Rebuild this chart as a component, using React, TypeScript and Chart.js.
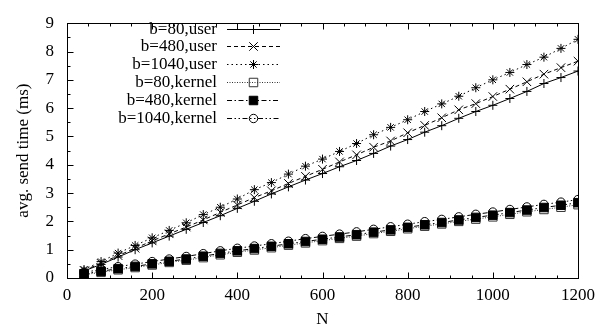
import React, { useEffect, useRef } from 'react';
import { Chart, registerables } from 'chart.js';
import { drawPoint } from 'chart.js/helpers';

Chart.register(...registerables);

const N = [40, 80, 120, 160, 200, 240, 280, 320, 360, 400, 440, 480, 520, 560, 600, 640, 680, 720, 760, 800, 840, 880, 920, 960, 1000, 1040, 1080, 1120, 1160, 1200];

const userB80 = [0.25, 0.48, 0.74, 1.0, 1.24, 1.48, 1.72, 1.96, 2.2, 2.46, 2.71, 2.97, 3.22, 3.46, 3.69, 3.93, 4.15, 4.4, 4.66, 4.89, 5.15, 5.38, 5.64, 5.88, 6.1, 6.34, 6.59, 6.87, 7.08, 7.31];
const userB480 = [0.27, 0.52, 0.79, 1.05, 1.31, 1.56, 1.8, 2.05, 2.32, 2.58, 2.84, 3.08, 3.34, 3.59, 3.84, 4.1, 4.35, 4.62, 4.84, 5.13, 5.39, 5.66, 5.94, 6.16, 6.41, 6.67, 6.93, 7.2, 7.43, 7.66];
const userB1040 = [0.3, 0.58, 0.88, 1.15, 1.42, 1.68, 1.95, 2.24, 2.5, 2.79, 3.12, 3.37, 3.67, 3.95, 4.2, 4.47, 4.75, 5.06, 5.32, 5.59, 5.88, 6.15, 6.42, 6.72, 7.0, 7.26, 7.54, 7.8, 8.11, 8.43];
const kernelB80 = [0.12, 0.2, 0.29, 0.37, 0.46, 0.55, 0.63, 0.72, 0.82, 0.91, 0.99, 1.07, 1.16, 1.24, 1.32, 1.4, 1.48, 1.57, 1.65, 1.74, 1.83, 1.91, 2.0, 2.08, 2.16, 2.25, 2.34, 2.42, 2.5, 2.59];
const kernelB480 = [0.15, 0.24, 0.33, 0.41, 0.5, 0.59, 0.67, 0.77, 0.87, 0.96, 1.04, 1.12, 1.21, 1.29, 1.37, 1.45, 1.53, 1.62, 1.7, 1.79, 1.88, 1.96, 2.05, 2.14, 2.22, 2.31, 2.4, 2.49, 2.57, 2.66];
const kernelB1040 = [0.2, 0.3, 0.4, 0.49, 0.58, 0.67, 0.76, 0.86, 0.96, 1.05, 1.13, 1.21, 1.3, 1.39, 1.47, 1.55, 1.63, 1.72, 1.81, 1.9, 1.99, 2.07, 2.16, 2.25, 2.33, 2.42, 2.51, 2.6, 2.68, 2.77];

const seriesLabels = ['b=80,user', 'b=480,user', 'b=1040,user', 'b=80,kernel', 'b=480,kernel', 'b=1040,kernel'];
const seriesValues = [userB80, userB480, userB1040, kernelB80, kernelB480, kernelB1040];

const X_MIN = 0;
const X_MAX = 1200;
const X_MAJOR = 200;
const X_MINOR = 50;
const Y_MIN = 0;
const Y_MAX = 9;
const Y_MAJOR = 1;
const Y_MINOR = 0.5;
const X_TITLE = 'N';
const Y_TITLE = 'avg. send time (ms)';

const FONT = '"Liberation Serif", "Times New Roman", serif';
const FONT_SIZE = 17;

type Style = {
  dash: number[];
  pointStyle: any;
  radius: number;
  fill: string;
  color: string;
};

const styles: Style[] = [
  { dash: [], pointStyle: 'cross', radius: 4.5, fill: 'transparent', color: '#000' },
  { dash: [4, 3], pointStyle: 'crossRot', radius: 6, fill: 'transparent', color: '#000' },
  { dash: [1.5, 3], pointStyle: 'star', radius: 4.5, fill: 'transparent', color: '#000' },
  { dash: [1, 1.5], pointStyle: 'rect', radius: 6, fill: 'transparent', color: '#333' },
  { dash: [5, 2.5, 1.5, 2.5], pointStyle: 'rect', radius: 6, fill: '#000', color: '#000' },
  { dash: [5, 2.5, 1.5, 2.5, 1.5, 2.5], pointStyle: 'circle', radius: 4.2, fill: 'transparent', color: '#000' },
];

const framePlugin = {
  id: 'gnuFrame',
  beforeDatasetsDraw(chart: any) {
    const { ctx, chartArea: a, scales } = chart;
    const xs = scales.x;
    const ys = scales.y;
    const L = Math.round(a.left) + 0.5;
    const R = Math.round(a.right) + 0.5;
    const T = Math.round(a.top) + 0.5;
    const B = Math.round(a.bottom) + 0.5;
    ctx.save();
    ctx.strokeStyle = '#000';
    ctx.lineWidth = 1;
    ctx.beginPath();
    for (let v = X_MIN; v <= X_MAX + 1e-9; v += X_MINOR) {
      const px = Math.round(xs.getPixelForValue(v)) + 0.5;
      const len = Math.abs(v % X_MAJOR) < 1e-9 ? 6 : 3;
      ctx.moveTo(px, B);
      ctx.lineTo(px, B - len);
      ctx.moveTo(px, T);
      ctx.lineTo(px, T + len);
    }
    for (let v = Y_MIN; v <= Y_MAX + 1e-9; v += Y_MINOR) {
      const py = Math.round(ys.getPixelForValue(v)) + 0.5;
      const len = Math.abs(v % Y_MAJOR) < 1e-9 ? 6 : 3;
      ctx.moveTo(L, py);
      ctx.lineTo(L + len, py);
    }
    ctx.stroke();
    ctx.strokeRect(L, T, R - L, B - T);
    ctx.restore();
  },
  afterDatasetsDraw(chart: any) {
    const { ctx } = chart;
    const textRight = 217;
    const lineStart = 227;
    const lineEnd = 280;
    const markX = 253.5;
    const top = 28.5;
    const step = 17.8;
    ctx.save();
    ctx.font = `${FONT_SIZE}px ${FONT}`;
    ctx.fillStyle = '#000';
    ctx.textAlign = 'right';
    ctx.textBaseline = 'middle';
    seriesLabels.forEach((lab, i) => {
      const y = Math.round(top + step * i) + 0.5;
      const st = styles[i];
      ctx.fillStyle = '#000';
      ctx.fillText(lab, textRight, y);
      ctx.beginPath();
      ctx.setLineDash(st.dash);
      ctx.strokeStyle = st.color;
      ctx.lineWidth = 1;
      ctx.moveTo(lineStart, y);
      ctx.lineTo(lineEnd, y);
      ctx.stroke();
      ctx.setLineDash([]);
      ctx.strokeStyle = st.color;
      ctx.fillStyle = st.fill;
      drawPoint(ctx, { pointStyle: st.pointStyle, radius: st.radius, borderWidth: 1, rotation: 0 } as any, markX, y);
    });
    ctx.restore();
  },
};

export default function App() {
  const ref = useRef<HTMLCanvasElement | null>(null);
  useEffect(() => {
    if (!ref.current) return;
    const datasets = seriesLabels.map((label, i) => ({
      label,
      data: N.map((n, j) => ({ x: n, y: seriesValues[i][j] })),
      borderColor: styles[i].color,
      borderWidth: 1,
      borderDash: styles[i].dash,
      pointStyle: styles[i].pointStyle,
      pointRadius: styles[i].radius,
      pointBorderColor: styles[i].color,
      pointBackgroundColor: styles[i].fill,
      pointBorderWidth: 1,
      fill: false,
      tension: 0,
      order: 5 - i,
    }));
    const chart = new Chart(ref.current, {
      type: 'line',
      data: { datasets },
      options: {
        animation: false,
        responsive: false,
        maintainAspectRatio: false,
        layout: { padding: { left: 0, right: 20, top: 13, bottom: 0 } },
        plugins: { legend: { display: false }, tooltip: { enabled: false } },
        scales: {
          x: {
            type: 'linear',
            min: X_MIN,
            max: X_MAX,
            grid: { display: false, drawTicks: false },
            border: { display: false },
            ticks: {
              stepSize: X_MAJOR,
              color: '#000',
              font: { family: FONT, size: FONT_SIZE },
              padding: 7,
              maxRotation: 0,
              callback: (v: any) => String(v),
            },
            title: { display: true, text: X_TITLE, color: '#000', font: { family: FONT, size: FONT_SIZE, lineHeight: 1 }, padding: { top: 0, bottom: 1 } },
            afterFit: (s: any) => { s.height = 51; },
          },
          y: {
            type: 'linear',
            min: Y_MIN,
            max: Y_MAX,
            grid: { display: false, drawTicks: false },
            border: { display: false },
            ticks: { stepSize: Y_MAJOR, color: '#000', font: { family: FONT, size: FONT_SIZE }, padding: 13, callback: (v: any) => String(v) },
            title: { display: true, text: Y_TITLE, color: '#000', font: { family: FONT, size: FONT_SIZE, lineHeight: 1 }, padding: { top: 15.5, bottom: 0 } },
            afterFit: (s: any) => { s.width = 67; },
          },
        },
      } as any,
      plugins: [framePlugin],
    });
    return () => chart.destroy();
  }, []);
  return (
    <div style={{ position: 'fixed', left: 0, top: 0, width: 602, height: 329, background: '#fff' }}>
      <canvas ref={ref} width={602} height={329} style={{ display: 'block' }} />
    </div>
  );
}
